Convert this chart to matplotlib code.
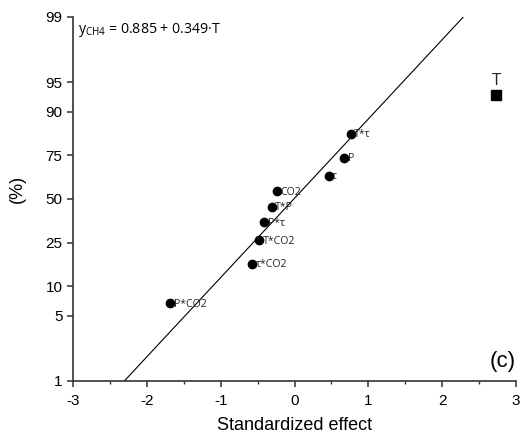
import matplotlib
matplotlib.use("Agg")
import matplotlib.pyplot as plt
from matplotlib.ticker import FixedLocator, FixedFormatter, NullLocator, MultipleLocator

# ---- data ----
effects = ['P*CO2', 'τ*CO2', 'T*CO2', 'P*τ', 'T*P', 'CO2', 'τ', 'P', 'T*τ']
effect_x = [-1.684, -0.569, -0.477, -0.409, -0.311, -0.233, 0.463, 0.675, 0.761]
effect_pct = [6.7, 16.3, 26.0, 35.6, 45.2, 54.8, 64.4, 74.0, 83.7]

sig_effect = ['T']
sig_x = [2.729]
sig_pct = [93.3]

fit_x = [-2.305, 2.286]
fit_pct = [1, 99]

ytick_pct = [1, 5, 10, 25, 50, 75, 90, 95, 99]
ytick_labels = ['1', '5', '10', '25', '50', '75', '90', '95', '99']
xticks = [-3, -2, -1, 0, 1, 2, 3]
equation = r'$\mathregular{y_{CH4}}$ = 0.885 + 0.349·T'
panel = '(c)'

plt.rcParams['font.family'] = ['Liberation Sans', 'DejaVu Sans']

fig = plt.figure(figsize=(5.2, 4.37), dpi=100)
ax = fig.add_axes([73/520, 1-381/437, 443/520, 364/437])
ax.set_yscale('logit')

ax.plot(fit_x, [p/100 for p in fit_pct], color='black', lw=0.8, zorder=2)
ax.plot(effect_x, [p/100 for p in effect_pct], 'o', color='black', ms=6, zorder=3)
ax.plot(sig_x, [p/100 for p in sig_pct], 's', color='black', ms=7, zorder=3)

lab_font = ['Open Sans', 'DejaVu Sans']
for name, x, p in zip(effects, effect_x, effect_pct):
    ax.annotate(name, (x, p/100), xytext=(2.5, -0.5), textcoords='offset points',
                ha='left', va='center', fontsize=7.6, family=lab_font, color='#222222')
for name, x, p in zip(sig_effect, sig_x, sig_pct):
    ax.annotate(name, (x, p/100), xytext=(0, 4), textcoords='offset points',
                ha='center', va='bottom', fontsize=12, family=lab_font, color='#222222')

ax.set_xlim(-3, 3)
ax.set_ylim(0.01, 0.99)
ax.yaxis.set_major_locator(FixedLocator([p/100 for p in ytick_pct]))
ax.yaxis.set_major_formatter(FixedFormatter(ytick_labels))
ax.yaxis.set_minor_locator(NullLocator())
ax.set_xticks(xticks)
ax.set_xticklabels([str(t) for t in xticks])
ax.xaxis.set_minor_locator(MultipleLocator(0.5))

for s in ['top', 'right']:
    ax.spines[s].set_visible(False)
for s in ['left', 'bottom']:
    ax.spines[s].set_linewidth(1.2)
    ax.spines[s].set_color('#333333')
ax.tick_params(axis='both', which='major', direction='out', length=4.5, width=1.1,
               labelsize=11, pad=3, color='#333333')
ax.tick_params(axis='x', which='minor', direction='out', length=2.5, width=1.0, color='#333333')
ax.tick_params(axis='x', which='major', pad=5)

ax.set_xlabel('Standardized effect', fontsize=13, labelpad=6)
fig.text(17/520, 1-189/437, '(%)', rotation=90, ha='center', va='center', fontsize=13)

ax.text(0.011, 0.956, equation, transform=ax.transAxes, ha='left', va='baseline',
        fontsize=10.2, family=lab_font)
ax.text(1.0, 0.025, panel, transform=ax.transAxes, ha='right', va='bottom', fontsize=16)

fig.savefig('out.png', dpi=100)
